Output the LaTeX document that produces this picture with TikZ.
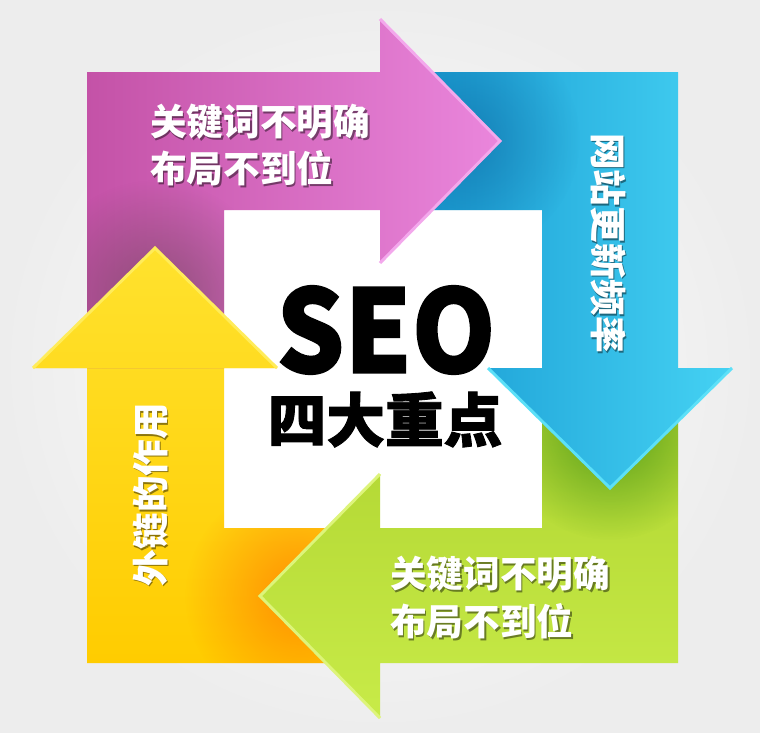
\documentclass[tikz,border=0pt]{standalone}
\usepackage{fontspec}
\newfontfamily\cjk{Noto Sans CJK SC}
\newfontfamily\cjkheavy{Noto Sans CJK SC}[BoldFeatures={FakeBold=1.5}]
\usetikzlibrary{fadings}
\tikzfading[name=softspot, inner color=transparent!0, outer color=transparent!100]
\definecolor{pL}{HTML}{C452A7}
\definecolor{pR}{HTML}{EA86DC}
\definecolor{pEdge}{HTML}{F3A8EC}
\definecolor{bL}{HTML}{1496D0}
\definecolor{bR}{HTML}{45D2F3}
\definecolor{bEdge}{HTML}{5CE0F8}
\definecolor{bSpot}{HTML}{0A5C96}
\definecolor{gT}{HTML}{ADD22E}
\definecolor{gB}{HTML}{C8EB48}
\definecolor{gEdge}{HTML}{DDF47A}
\definecolor{yT}{HTML}{FFE22E}
\definecolor{yB}{HTML}{FFCC00}
\definecolor{yEdge}{HTML}{FFEC5A}
\definecolor{bgOut}{HTML}{EDEDED}
\tikzset{
  lbl/.style={text=white, font=\cjk\bfseries\fontsize{27.5}{33}\selectfont, inner sep=0pt},
  lblsh/.style={text=black, opacity=0.45, font=\cjk\bfseries\fontsize{27.5}{33}\selectfont, inner sep=0pt},
  bevel/.style={line width=2.2pt, line join=miter},
  spot/.style={opacity=0.6, path fading=softspot}
}
\begin{document}
\begin{tikzpicture}[x=0.75pt,y=-0.75pt]
\useasboundingbox (0,0) rectangle (760,732);
% background
\shade[inner color=white, outer color=bgOut] (0,0) rectangle (760,732);
% white centre
\fill[white] (224,210) rectangle (542,528);
% yellow arrow (full)
\def\Ypoly{(87,368) -- (33,368) -- (155,248) -- (277,368) -- (224,368) -- (224,528) -- (380,528) -- (380,663) -- (87,663) -- cycle}
\shade[top color=yT, bottom color=yB] \Ypoly;
\begin{scope}
  \clip (87,368) -- (224,368) -- (224,528) -- (380,528) -- (380,663) -- (87,663) -- cycle;
  \fill[spot, color=orange!90!red, opacity=0.7] (300,596) circle (115);
\end{scope}
% green arrow (full)
\shade[top color=gT, bottom color=gB] (542,368) -- (678,368) -- (678,663) -- (380,663) -- (380,718) -- (260,596) -- (380,474) -- (380,528) -- (542,528) -- cycle;
\draw[bevel, gEdge] (380,474) -- (260,596) -- (380,718);
\begin{scope}
  \clip (542,368) -- (678,368) -- (678,663) -- (380,663) -- (380,528) -- (542,528) -- cycle;
  \fill[spot, color=black!60!green, opacity=0.5] (610,430) circle (110);
\end{scope}
% blue arrow (full)
\shade[left color=bL, right color=bR] (380,72) -- (678,72) -- (678,368) -- (732,368) -- (610,488) -- (488,368) -- (542,368) -- (542,210) -- (380,210) -- cycle;
\draw[bevel, bEdge] (488,368) -- (610,488) -- (732,368);
\begin{scope}
  \clip (380,72) -- (678,72) -- (678,368) -- (542,368) -- (542,210) -- (380,210) -- cycle;
  \fill[spot, color=bSpot, opacity=0.5] (465,140) circle (115);
\end{scope}
% purple arrow (full)
\shade[left color=pL, right color=pR] (87,72) -- (380,72) -- (380,19) -- (500,141) -- (380,263) -- (380,210) -- (224,210) -- (224,368) -- (87,368) -- cycle;
\draw[bevel, pEdge] (380,19) -- (500,141) -- (380,263);
\begin{scope}
  \clip (87,72) -- (380,72) -- (380,210) -- (224,210) -- (224,368) -- (87,368) -- cycle;
  \fill[spot, color=black!70!magenta] (155,300) circle (120);
\end{scope}
% yellow arrowhead again, on top of the purple tail
\begin{scope}
  \clip (33,368) -- (155,248) -- (277,368) -- cycle;
  \shade[top color=yT, bottom color=yB] \Ypoly;
\end{scope}
\draw[bevel, yEdge] (33,368) -- (155,248) -- (277,368);
% labels
\node[lblsh, anchor=west] (t1s) at (151.5,123.8) {关键词不明确};
\node[lbl, anchor=west] (t1) at (150,122) {关键词不明确};
\node[lblsh, anchor=west] (t2s) at (151.5,169.8) {布局不到位};
\node[lbl, anchor=west] (t2) at (150,168) {布局不到位};
\node[lblsh, anchor=west] (t3s) at (391.5,575.3) {关键词不明确};
\node[lbl, anchor=west] (t3) at (390,573.5) {关键词不明确};
\node[lblsh, anchor=west] (t4s) at (391.5,622.8) {布局不到位};
\node[lbl, anchor=west] (t4) at (390,621) {布局不到位};
\node[lblsh, rotate=-90] (t5s) at (609.5,244.8) {网站更新频率};
\node[lbl, rotate=-90] (t5) at (608,243) {网站更新频率};
\node[lblsh, rotate=90] (t6s) at (152,496.3) {外链的作用};
\node[lbl, rotate=90] (t6) at (150.5,494.5) {外链的作用};
% title
\node[font=\cjkheavy\bfseries\fontsize{86}{90}\selectfont, inner sep=0pt, xscale=0.93] (seo) at (386,330) {SEO};
\node[font=\cjkheavy\bfseries\fontsize{44}{50}\selectfont, inner sep=0pt] (sub) at (385,419.5) {四大重点};
\end{tikzpicture}
\end{document}
